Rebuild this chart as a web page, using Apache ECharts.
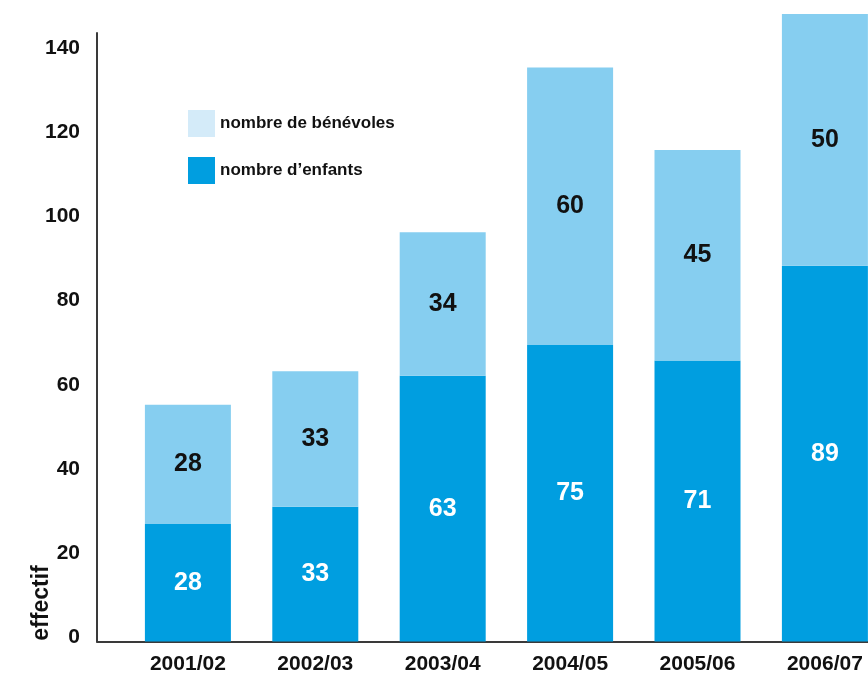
<!DOCTYPE html>
<html>
<head>
<meta charset="utf-8">
<style>html,body{margin:0;padding:0;background:#fff;}#c{width:868px;height:673px;}</style>
<script src="https://cdn.jsdelivr.net/npm/echarts@6/dist/echarts.min.js"></script>
</head>
<body>
<div id="c"></div>
<script>
const categories = ['2001/02', '2002/03', '2003/04', '2004/05', '2005/06', '2006/07'];
const enfants = [27.9, 32.0, 63.1, 70.4, 66.7, 89.2];
const benevoles = [28.3, 32.2, 34.1, 65.9, 50.0, 59.8];
const enfantsLabels = ['28', '33', '63', '75', '71', '89'];
const benevolesLabels = ['28', '33', '34', '60', '45', '50'];
const yTicks = [0, 20, 40, 60, 80, 100, 120, 140];

const FONT = '"Liberation Sans", Arial, Helvetica, sans-serif';
const DARK = '#009ee0';
const LIGHT = '#86cef0';
const LIGHT_LEGEND = '#d4ebf9';
const YMAX = 144.5;

const chart = echarts.init(document.getElementById('c'), null, {renderer: 'canvas'});
chart.setOption({
  animation: false,
  backgroundColor: '#fff',
  grid: [
    {left: 187.9, right: 43.1, top: 33, bottom: 31.5, containLabel: false, outerBoundsMode: 'none'},
    {left: 97, right: 0, top: 33, bottom: 31.5, containLabel: false, outerBoundsMode: 'none'}
  ],
  legend: {
    orient: 'vertical',
    left: 183, top: 105,
    itemWidth: 27, itemHeight: 27, itemGap: 20,
    icon: 'rect',
    textStyle: {fontFamily: FONT, fontSize: 17, fontWeight: 'bold', color: '#111'},
    data: [
      {name: 'nombre de bénévoles', itemStyle: {color: LIGHT_LEGEND}},
      {name: 'nombre d\u2019enfants', itemStyle: {color: DARK}}
    ]
  },
  xAxis: [
    {
      gridIndex: 0, type: 'category', data: categories, boundaryGap: false,
      axisLine: {show: false}, axisTick: {show: false},
      axisLabel: {fontFamily: FONT, fontSize: 21, fontWeight: 'bold', color: '#111', margin: 12, interval: 0}
    },
    {
      gridIndex: 1, type: 'value', min: 0, max: 1,
      axisLine: {show: true, lineStyle: {color: '#3a3a3a', width: 2}},
      axisTick: {show: false}, axisLabel: {show: false}, splitLine: {show: false}
    }
  ],
  yAxis: [
    {gridIndex: 0, type: 'value', min: 0, max: YMAX, show: false},
    {
      gridIndex: 1, type: 'value', min: 0, max: YMAX, interval: 20,
      axisLine: {show: true, lineStyle: {color: '#3a3a3a', width: 2}},
      axisTick: {show: false}, splitLine: {show: false},
      axisLabel: {
        fontFamily: FONT, fontSize: 21, fontWeight: 'bold', color: '#111', margin: 17,
        verticalAlign: 'bottom', lineHeight: 8, showMaxLabel: false,
        formatter: v => (yTicks.indexOf(v) >= 0 ? String(v) : '')
      }
    }
  ],
  graphic: [{
    type: 'text', x: 41.5, y: 603, rotation: Math.PI / 2,
    style: {text: 'effectif', fontFamily: FONT, fontSize: 23, fontWeight: 'bold', fill: '#111', align: 'center', verticalAlign: 'middle'}
  }],
  series: [
    {
      name: 'nombre d\u2019enfants', type: 'bar', stack: 'total', xAxisIndex: 0, yAxisIndex: 0,
      data: enfants, barWidth: 86, clip: false,
      itemStyle: {color: DARK},
      label: {show: true, position: 'inside', fontFamily: FONT, fontSize: 25, fontWeight: 'bold', color: '#fff',
        formatter: p => enfantsLabels[p.dataIndex]}
    },
    {
      name: 'nombre de bénévoles', type: 'bar', stack: 'total', xAxisIndex: 0, yAxisIndex: 0,
      data: benevoles, barWidth: 86, clip: false,
      itemStyle: {color: LIGHT},
      label: {show: true, position: 'inside', fontFamily: FONT, fontSize: 25, fontWeight: 'bold', color: '#111',
        formatter: p => benevolesLabels[p.dataIndex]}
    }
  ]
});
</script>
</body>
</html>
